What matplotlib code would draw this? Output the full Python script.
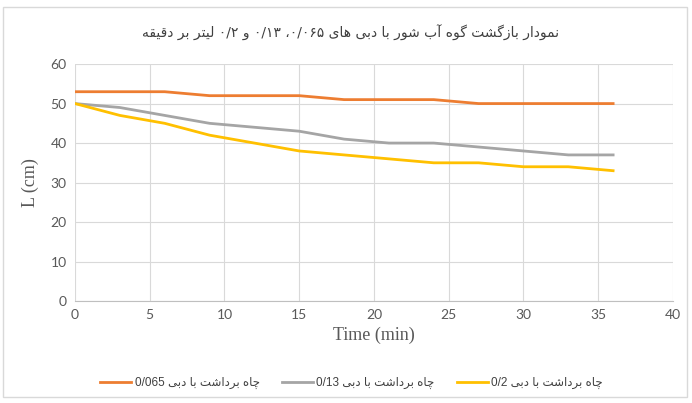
import re
import matplotlib
matplotlib.use("Agg")
import matplotlib.pyplot as plt
from matplotlib.patches import Rectangle

# data
time_min = [0, 3, 6, 9, 12, 15, 18, 21, 24, 27, 30, 33, 36]
l_0065 = [53, 53, 53, 52, 52, 52, 51, 51, 51, 50, 50, 50, 50]
l_013 = [50, 49, 47, 45, 44, 43, 41, 40, 40, 39, 38, 37, 37]
l_02 = [50, 47, 45, 42, 40, 38, 37, 36, 35, 35, 34, 34, 33]

title_fa = "نمودار بازگشت گوه آب شور با دبی های ۰/۰۶۵، ۰/۱۳ و ۰/۲ لیتر بر دقیقه"
labels_fa = ["چاه برداشت با دبی 0/065", "چاه برداشت با دبی 0/13", "چاه برداشت با دبی 0/2"]
colors = ["#ED7D31", "#A5A5A5", "#FFC000"]

# matplotlib has no arabic shaping / bidi, so do a small one by hand
# forms: isolated, final, initial, medial
FORMS = {
    "ا": (0xFE8D, 0xFE8E), "آ": (0xFE81, 0xFE82),
    "د": (0xFEA9, 0xFEAA), "ر": (0xFEAD, 0xFEAE),
    "ز": (0xFEAF, 0xFEB0), "و": (0xFEED, 0xFEEE),
    "ب": (0xFE8F, 0xFE90, 0xFE91, 0xFE92), "ت": (0xFE95, 0xFE96, 0xFE97, 0xFE98),
    "ش": (0xFEB5, 0xFEB6, 0xFEB7, 0xFEB8), "ق": (0xFED5, 0xFED6, 0xFED7, 0xFED8),
    "ل": (0xFEDD, 0xFEDE, 0xFEDF, 0xFEE0), "م": (0xFEE1, 0xFEE2, 0xFEE3, 0xFEE4),
    "ن": (0xFEE5, 0xFEE6, 0xFEE7, 0xFEE8), "ه": (0xFEE9, 0xFEEA, 0xFEEB, 0xFEEC),
    "ی": (0xFBFC, 0xFBFD, 0xFBFE, 0xFBFF), "گ": (0xFB92, 0xFB93, 0xFB94, 0xFB95),
    "چ": (0xFB7A, 0xFB7B, 0xFB7C, 0xFB7D),
}


def fa(text):
    out = []
    for i, ch in enumerate(text):
        if ch not in FORMS:
            out.append(ch)
            continue
        prev = text[i - 1] if i > 0 else ""
        nxt = text[i + 1] if i + 1 < len(text) else ""
        join_prev = prev in FORMS and len(FORMS[prev]) == 4
        join_next = len(FORMS[ch]) == 4 and nxt in FORMS
        f = FORMS[ch]
        if join_prev and join_next:
            out.append(chr(f[3]))
        elif join_prev:
            out.append(chr(f[1]))
        elif join_next:
            out.append(chr(f[2]))
        else:
            out.append(chr(f[0]))
    s = "".join(out)[::-1]
    return re.sub(r"[0-9۰-۹/]+", lambda m: m.group()[::-1], s)


fig = plt.figure(figsize=(6.92, 4.03), dpi=100)
ax = fig.add_axes([0.1084, 0.253, 0.864, 0.588])

ax.plot(time_min, l_0065, color=colors[0], lw=2, label=fa(labels_fa[0]))
ax.plot(time_min, l_013, color=colors[1], lw=2, label=fa(labels_fa[1]))
ax.plot(time_min, l_02, color=colors[2], lw=2, label=fa(labels_fa[2]))

ax.set_xlim(0, 40)
ax.set_ylim(0, 60)
ax.set_xticks(range(0, 41, 5))
ax.set_yticks(range(0, 61, 10))
ax.grid(True, color="#d9d9d9", lw=0.8)
ax.set_axisbelow(True)
for side in ["top", "right", "left"]:
    ax.spines[side].set_visible(False)
ax.spines["bottom"].set_color("#bfbfbf")
ax.tick_params(length=0, labelsize=10, labelcolor="#595959", pad=6)
for t in ax.get_xticklabels() + ax.get_yticklabels():
    t.set_family("Lato")

ax.set_xlabel("Time (min)", family="Liberation Serif", fontsize=13, color="#595959", labelpad=4)
ax.set_ylabel("L (cm)", family="Liberation Serif", fontsize=13, color="#595959", labelpad=8)

fig.text(0.506, 0.918, fa(title_fa), ha="center", va="center",
         family="DejaVu Sans", fontsize=10, color="#404040")

fig.legend(loc="center", bbox_to_anchor=(0.508, 0.05), ncol=3, frameon=False,
           prop={"family": ["Liberation Sans", "DejaVu Sans"], "size": 8.5},
           handlelength=2.6, columnspacing=1.9, handletextpad=0.3,
           labelcolor="#404040")

fig.patches.append(Rectangle((0.005, 0.015), 0.988, 0.968, transform=fig.transFigure,
                             fill=False, edgecolor="#d9d9d9", lw=1))

fig.savefig("out.png", dpi=100)
